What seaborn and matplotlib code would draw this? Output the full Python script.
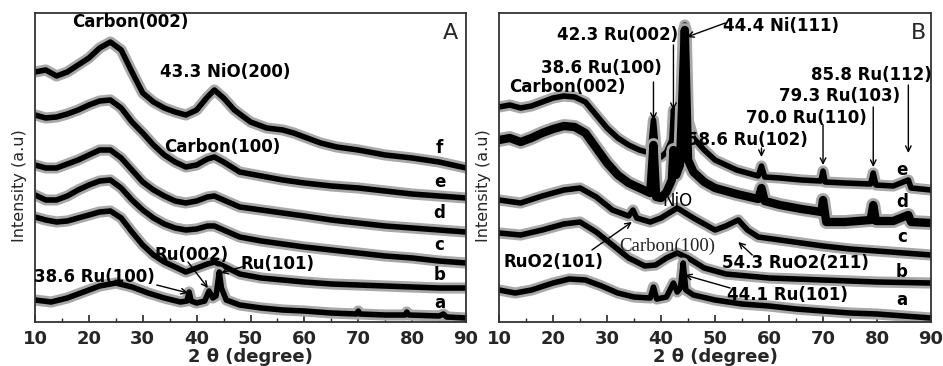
import numpy as np
import pandas as pd
import matplotlib.pyplot as plt
import seaborn as sns

# -----------------------------------
# DATA (2theta in degree, intensity in a.u., curves offset)
# -----------------------------------

tt_A = [10, 12, 14, 16, 18, 20, 22, 24, 26, 28, 30, 32, 34, 36, 38, 40, 42, 43.3,
        45, 48, 52, 56, 60, 65, 70, 75, 80, 85, 90]

tt_A_f = [10, 12, 14, 16, 18, 20, 22, 24, 26, 28, 30, 32, 34, 36, 38, 40, 42, 43.3,
          45, 47, 50, 53, 56, 58, 60, 63, 66, 70, 75, 80, 85, 90]
I_A_f = [250, 252, 246, 250, 257, 264, 274, 280, 272, 250, 229, 220, 214, 210, 207, 212,
         225, 232, 224, 212, 200, 194, 192, 189, 185, 179, 175, 172, 167, 164, 160, 154]
I_A_e = [207, 204, 205, 208, 212, 217, 221, 222, 214, 200, 189, 177, 167, 160, 155, 157,
         163, 165, 160, 150, 146, 142, 139, 136, 134, 131, 128, 126, 124]
I_A_d = [157, 154, 154, 158, 162, 167, 172, 172, 164, 152, 140, 132, 126, 121, 119, 121,
         125, 126, 122, 115, 112, 109, 106, 102, 99, 96, 94, 92, 90]
I_A_c = [127, 122, 122, 126, 132, 137, 141, 142, 134, 122, 112, 104, 98, 94, 92, 93,
         96, 96, 92, 85, 81, 78, 75, 72, 69, 66, 64, 61, 59]
I_A_b = [105, 102, 100, 101, 104, 107, 110, 111, 104, 90, 77, 67, 60, 55, 50, 54,
         58, 60, 56, 48, 44, 42, 40, 38, 37, 36, 35, 34, 34]
tt_A_a = [10, 13, 16, 19, 22, 25, 28, 31, 34, 37, 38.2, 38.6, 39, 40, 41.5, 42.3, 43, 43.6,
          44.2, 44.6, 45.5, 48, 52, 56, 60, 65, 69.7, 70, 70.3, 75, 78.7, 79, 79.4, 85,
          85.8, 86.4, 90]
I_A_a = [22, 20, 24, 30, 36, 39, 35, 29, 24, 20, 21, 30, 21, 19, 21, 31, 24, 26,
         50, 34, 22, 17, 14, 12, 11, 9, 8, 11, 8, 7, 7, 10, 7, 6, 8, 5, 4]

tt_B_e = [10, 12, 14, 16, 18, 20, 22, 24, 26, 28, 30, 32, 34, 36, 38, 38.6, 39.2, 40, 41,
          42, 42.3, 42.8, 43.5, 44.4, 45, 46, 48, 50, 54, 58, 58.6, 59.2, 62, 66, 69.6,
          70, 70.4, 74, 78.8, 79.3, 79.8, 83, 85.8, 86.3, 90]
I_B_e = [215, 217, 214, 216, 220, 224, 226, 225, 220, 207, 194, 184, 177, 172, 169, 202,
         167, 165, 170, 182, 212, 182, 192, 297, 202, 184, 172, 162, 152, 146, 156, 145,
         144, 142, 141, 151, 140, 139, 138, 149, 137, 136, 142, 134, 132]
tt_B_d = [10, 12, 14, 16, 18, 20, 22, 24, 26, 28, 30, 32, 34, 36, 38, 38.6, 39.1, 40, 41,
          42, 42.3, 42.8, 43.5, 44.4, 45, 46, 48, 50, 54, 58, 58.6, 59.2, 62, 66, 69.7,
          70, 70.6, 74, 78.8, 79.3, 79.8, 83, 85.8, 86.3, 90]
I_B_d = [182, 184, 180, 184, 189, 193, 196, 195, 189, 174, 159, 147, 139, 134, 129, 177,
         125, 124, 130, 142, 172, 147, 157, 292, 162, 150, 140, 134, 128, 123, 134, 121,
         117, 113, 110, 122, 100, 100, 102, 117, 101, 101, 107, 100, 99]
tt_B_c = [10, 14, 18, 22, 25, 28, 31, 34, 34.8, 35.5, 38, 40, 43, 46, 50, 52, 54.3, 56,
          58, 62, 66, 70, 75, 80, 85, 90]
I_B_c = [122, 119, 126, 132, 134, 125, 112, 106, 112, 104, 100, 104, 114, 104, 92, 96,
         102, 92, 85, 82, 79, 76, 73, 71, 69, 67]
tt_B_b = [10, 14, 18, 22, 25, 28, 31, 34, 37, 39, 41, 43, 45, 48, 52, 56, 60, 70, 80, 90]
I_B_b = [89, 87, 92, 98, 100, 90, 77, 64, 56, 57, 64, 69, 64, 54, 48, 46, 44, 42, 40, 39]
tt_B_a = [10, 13, 16, 20, 23, 26, 29, 32, 35, 38, 38.6, 39.2, 41, 42.3, 43, 43.6, 44.1,
          44.6, 46, 50, 55, 60, 65, 70, 75, 80, 85, 90]
I_B_a = [32, 29, 32, 39, 43, 42, 36, 29, 25, 24, 35, 23, 25, 39, 30, 34, 59, 32, 27, 22,
         18, 16, 13, 11, 9, 8, 6, 4]

curve_labels = ["f", "e", "d", "c", "b", "a"]

# -----------------------------------
# TABLES
# -----------------------------------

rows = []
for name, xs, ys in [("f", tt_A_f, I_A_f), ("e", tt_A, I_A_e), ("d", tt_A, I_A_d),
                     ("c", tt_A, I_A_c), ("b", tt_A, I_A_b), ("a", tt_A_a, I_A_a)]:
    for x, y in zip(xs, ys):
        rows.append(("A", name, x, y))
for name, xs, ys in [("e", tt_B_e, I_B_e), ("d", tt_B_d, I_B_d), ("c", tt_B_c, I_B_c),
                     ("b", tt_B_b, I_B_b), ("a", tt_B_a, I_B_a)]:
    for x, y in zip(xs, ys):
        rows.append(("B", name, x, y))
df = pd.DataFrame(rows, columns=["panel", "sample", "two_theta", "intensity"])

# -----------------------------------
# FIGURE
# -----------------------------------

sns.set_style("white")
plt.rcParams["font.family"] = ["DejaVu Sans"]

fig = plt.figure(figsize=(9.43, 3.66), dpi=100)
axA = fig.add_axes([0.0371, 0.1202, 0.4571, 0.8443])
axB = fig.add_axes([0.5292, 0.1202, 0.4581, 0.8443])

bold = dict(fontsize=12, fontweight="bold", color="black")
arw = dict(arrowstyle="->", color="black", lw=1.0, shrinkA=0, shrinkB=0)

for ax, panel in [(axA, "A"), (axB, "B")]:
    sub = df[df.panel == panel]
    for s in sub["sample"].unique():
        d = sub[sub["sample"] == s]
        heavy = panel == "B" and s == "d"
        # grey halo + dark core to mimic the noisy thick traces
        sns.lineplot(data=d, x="two_theta", y="intensity", ax=ax, color="#a8a8a8",
                     lw=10 if heavy else 8, estimator=None, legend=False)
        sns.lineplot(data=d, x="two_theta", y="intensity", ax=ax, color="black",
                     lw=6 if heavy else 4, estimator=None, legend=False)
    ax.set_xlim(10, 90)
    ax.set_ylim(0, 309)
    ax.set_xticks(range(10, 91, 10))
    ax.set_xticks(range(15, 90, 10), minor=True)
    ax.set_yticks([])
    ax.tick_params(axis="x", which="major", direction="in", length=5, width=1.2,
                   bottom=True, labelsize=13, pad=6)
    ax.tick_params(axis="x", which="minor", direction="in", length=3, width=1.0,
                   bottom=True)
    for lab in ax.get_xticklabels():
        lab.set_fontweight("bold")
    for sp in ax.spines.values():
        sp.set_color("#333333")
        sp.set_linewidth(1.3)
    ax.set_xlabel("2 θ (degree)", fontsize=13, fontweight="bold", labelpad=0)
    ax.set_ylabel("")

fig.text(20 / 943, 1 - 186 / 366, "Intensity (a.u)", rotation=90, ha="center",
         va="center", fontsize=11.5)
fig.text(484 / 943, 1 - 186 / 366, "Intensity (a.u)", rotation=90, ha="center",
         va="center", fontsize=11.5)

# panel A texts
axA.text(87.2, 289, "A", fontsize=16, ha="center", va="center")
axA.text(27.6, 300, "Carbon(002)", ha="center", va="center", **bold)
axA.text(45.3, 250, "43.3 NiO(200)", ha="center", va="center", **bold)
axA.text(44.7, 175, "Carbon(100)", ha="center", va="center", **bold)
axA.text(39.1, 67, "Ru(002)", ha="center", va="center", **bold)
axA.text(21.1, 45, "38.6 Ru(100)", ha="center", va="center", **bold)
axA.text(55.1, 58, "Ru(101)", ha="center", va="center", **bold)
axA.annotate("", xy=(38.4, 29), xytext=(32.6, 37), arrowprops=arw)
axA.annotate("", xy=(42.1, 34), xytext=(38.4, 60), arrowprops=arw)
axA.annotate("", xy=(44.5, 49), xytext=(49.0, 56), arrowprops=arw)
for lab, yv in zip(curve_labels, [174, 140, 109, 77, 47, 19]):
    axA.text(85.1, yv, lab, ha="center", va="center", **bold)

# panel B texts
axB.text(87.6, 289, "B", fontsize=16, ha="center", va="center")
axB.text(32.0, 287, "42.3 Ru(002)", ha="center", va="center", **bold)
axB.text(62.2, 296, "44.4 Ni(111)", ha="center", va="center", **bold)
axB.text(28.9, 254, "38.6 Ru(100)", ha="center", va="center", **bold)
axB.text(22.6, 235, "Carbon(002)", ha="center", va="center", **bold)
axB.text(78.9, 247, "85.8 Ru(112)", ha="center", va="center", **bold)
axB.text(73.0, 226, "79.3 Ru(103)", ha="center", va="center", **bold)
axB.text(66.9, 204, "70.0 Ru(110)", ha="center", va="center", **bold)
axB.text(55.9, 182, "58.6 Ru(102)", ha="center", va="center", **bold)
axB.text(43.1, 121, "NiO", ha="center", va="center", fontsize=12, color="black")
axB.text(41.1, 76, "Carbon(100)", ha="center", va="center", fontsize=13.5,
         family="Liberation Serif", color="#222222")
axB.text(20.0, 60, "RuO2(101)", ha="center", va="center", **bold)
axB.text(64.8, 59, "54.3 RuO2(211)", ha="center", va="center", **bold)
axB.text(63.5, 27, "44.1 Ru(101)", ha="center", va="center", **bold)
axB.annotate("", xy=(44.8, 285), xytext=(51.9, 299), arrowprops=arw)
for xv, y0, y1 in [(38.6, 240, 202), (42.3, 277, 212), (58.6, 174, 165),
                   (70.0, 197, 157), (79.3, 215, 155), (85.8, 237, 169)]:
    axB.annotate("", xy=(xv, y1), xytext=(xv, y0), arrowprops=arw)
axB.annotate("", xy=(34.6, 100), xytext=(27.2, 72), arrowprops=arw)
axB.annotate("", xy=(54.3, 80), xytext=(56.9, 67), arrowprops=arw)
axB.annotate("", xy=(44.4, 47), xytext=(52.8, 34), arrowprops=arw)
for lab, yv in zip(curve_labels[1:], [152, 120, 85, 50, 22]):
    axB.text(84.6, yv, lab, ha="center", va="center", **bold)

plt.savefig("out.png", dpi=100)
